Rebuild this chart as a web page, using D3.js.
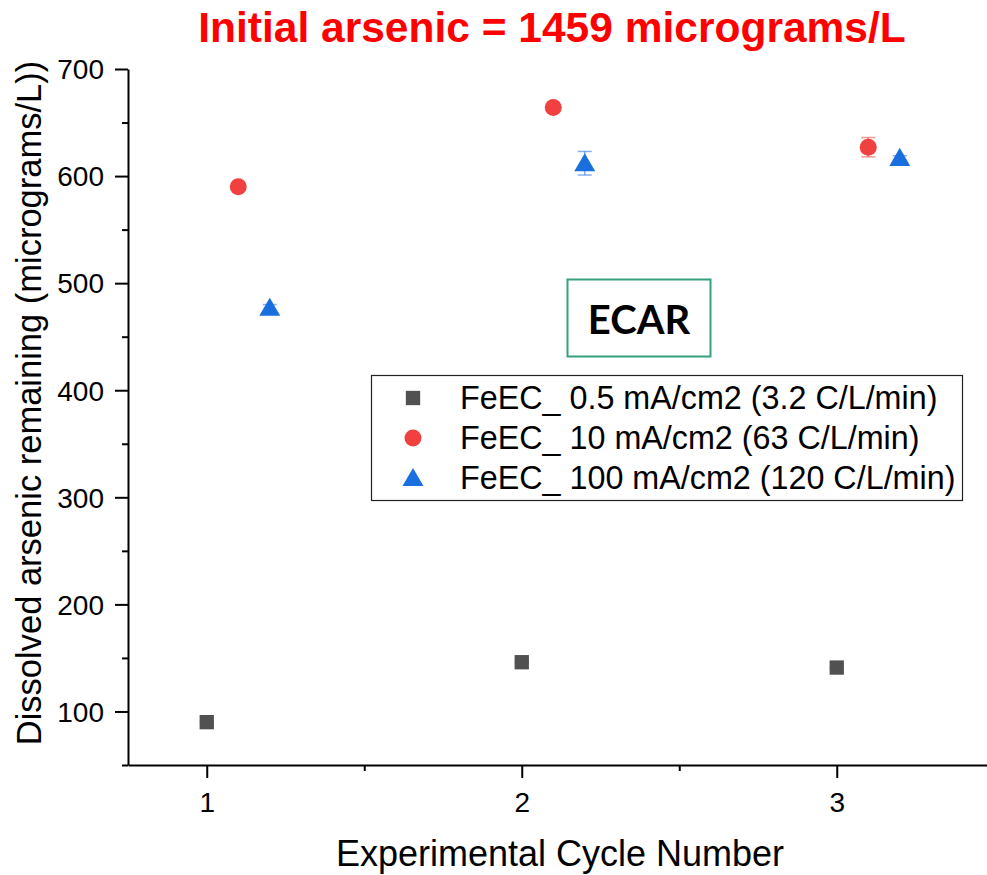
<!DOCTYPE html>
<html>
<head>
<meta charset="utf-8">
<script src="https://cdn.jsdelivr.net/npm/d3@7"></script>
<style>
  body { margin: 0; background: #fff; }
  svg { display: block; }
  svg text { font-family: "Liberation Sans", Arial, sans-serif; }
  .axis path, .axis line { stroke: #000; stroke-width: 2; }
</style>
</head>
<body>
<svg width="987" height="875"></svg>
<script>
// data
const cycles = [1, 2, 3];
const seriesNames = [
    "FeEC_ 0.5 mA/cm2 (3.2 C/L/min)",
    "FeEC_ 10 mA/cm2 (63 C/L/min)",
    "FeEC_ 100 mA/cm2 (120 C/L/min)"
];
const offsets = [0, 0.1, 0.2];          // x shift of each series
const lowCurrent = [90, 146, 141];
const lowCurrentErr = [1, 1, 1];
const midCurrent = [590, 664, 627];
const midCurrentErr = [2, 2, 9];
const highCurrent = [477, 612, 617];
const highCurrentErr = [3, 11, 2];
const colors = ["#515151", "#F14040", "#1A6FDF"];
const symbols = [d3.symbolSquare, d3.symbolCircle, d3.symbolTriangle];
const symbolSizes = [205, 227, 190];
const xTicks = [1, 2, 3];
const xMinor = [1.5, 2.5, 3.5];
const yTicks = [100, 200, 300, 400, 500, 600, 700];
const yMinor = [50, 150, 250, 350, 450, 550, 650];

const series = [
    { vals: lowCurrent, err: lowCurrentErr },
    { vals: midCurrent, err: midCurrentErr },
    { vals: highCurrent, err: highCurrentErr }
];

let svg = d3.select("svg");

let x = d3.scaleLinear().domain([0.75, 3.5]).range([128, 994.25]);
let y = d3.scaleLinear().domain([50, 700]).range([765, 69]);

// title
svg.append("text")
    .attr("x", 552).attr("y", 42)
    .attr("text-anchor", "middle")
    .attr("font-size", 42.5)
    .attr("font-weight", "bold")
    .attr("fill", "#FF0000")
    .text("Initial arsenic = 1459 micrograms/L");

// axes
let xAxis = svg.append("g").attr("class", "axis")
    .attr("transform", "translate(0,765)")
    .call(d3.axisBottom(x).tickValues(xTicks).tickSize(13).tickSizeOuter(0).tickFormat(d3.format("d")));
xAxis.selectAll("text").attr("font-size", 28).attr("dy", 0).attr("y", 47).attr("fill", "#000");

svg.append("g").attr("class", "axis")
    .attr("transform", "translate(0,765)")
    .call(d3.axisBottom(x).tickValues(xMinor).tickSize(6).tickSizeOuter(0).tickFormat(""))
    .select(".domain").remove();

let yAxis = svg.append("g").attr("class", "axis")
    .attr("transform", "translate(128,0)")
    .call(d3.axisLeft(y).tickValues(yTicks).tickSize(13).tickSizeOuter(0));
yAxis.selectAll("text").attr("font-size", 28).attr("x", -24).attr("dy", "0.35em").attr("fill", "#000");

svg.append("g").attr("class", "axis")
    .attr("transform", "translate(128,0)")
    .call(d3.axisLeft(y).tickValues(yMinor).tickSize(6).tickSizeOuter(0).tickFormat(""))
    .select(".domain").remove();

// axis titles
svg.append("text")
    .attr("x", 560).attr("y", 866)
    .attr("text-anchor", "middle")
    .attr("font-size", 36)
    .text("Experimental Cycle Number");

svg.append("text")
    .attr("transform", "translate(41,403) rotate(-90)")
    .attr("text-anchor", "middle")
    .attr("font-size", 34.5)
    .text("Dissolved arsenic remaining (micrograms/L))");

// points with error bars
let plot = svg.append("g").attr("class", "points");

series.forEach(function(s, i) {
    let pts = cycles.map((c, j) => ({ x: c + offsets[i], v: s.vals[j], e: s.err[j] }));
    let g = plot.append("g").attr("fill", colors[i]).attr("stroke", colors[i]);

    let eb = g.selectAll(".err").data(pts).enter().append("g")
        .attr("class", "err")
        .attr("stroke-opacity", 0.55)
        .attr("stroke-width", 1.5);
    eb.append("line")
        .attr("x1", d => x(d.x)).attr("x2", d => x(d.x))
        .attr("y1", d => y(d.v + d.e)).attr("y2", d => y(d.v - d.e));
    eb.append("line")
        .attr("x1", d => x(d.x) - 7).attr("x2", d => x(d.x) + 7)
        .attr("y1", d => y(d.v + d.e)).attr("y2", d => y(d.v + d.e));
    eb.append("line")
        .attr("x1", d => x(d.x) - 7).attr("x2", d => x(d.x) + 7)
        .attr("y1", d => y(d.v - d.e)).attr("y2", d => y(d.v - d.e));

    g.selectAll(".pt").data(pts).enter().append("path")
        .attr("class", "pt")
        .attr("stroke", "none")
        .attr("d", d3.symbol().type(symbols[i]).size(symbolSizes[i]))
        .attr("transform", d => {
            let dy = i === 2 ? 2 : 0;
            return "translate(" + x(d.x) + "," + (y(d.v) + dy) + ")";
        });
});

// ECAR box
svg.append("rect")
    .attr("x", 567.5).attr("y", 279.5)
    .attr("width", 143).attr("height", 77)
    .attr("fill", "#fff")
    .attr("stroke", "#35A07C")
    .attr("stroke-width", 2);
svg.append("text")
    .attr("x", 639).attr("y", 334)
    .attr("text-anchor", "middle")
    .style("font-family", "Lato, 'Open Sans', sans-serif")
    .attr("font-weight", "bold")
    .attr("font-size", 40)
    .text("ECAR");

// legend
let legend = svg.append("g").attr("class", "legend");
legend.append("rect")
    .attr("x", 371.5).attr("y", 375.5)
    .attr("width", 591).attr("height", 125)
    .attr("fill", "#fff")
    .attr("stroke", "#222")
    .attr("stroke-width", 1.2);

let item = legend.selectAll(".item").data(seriesNames).enter().append("g")
    .attr("class", "item")
    .attr("transform", (d, i) => "translate(0," + (398 + i * 40) + ")");
item.append("path")
    .attr("d", (d, i) => d3.symbol().type(symbols[i]).size(symbolSizes[i])())
    .attr("fill", (d, i) => colors[i])
    .attr("transform", (d, i) => "translate(413," + (i === 2 ? 2 : 0) + ")");
item.append("text")
    .attr("x", 460).attr("y", 11)
    .attr("font-size", 32.3)
    .text(d => d);
</script>
</body>
</html>
